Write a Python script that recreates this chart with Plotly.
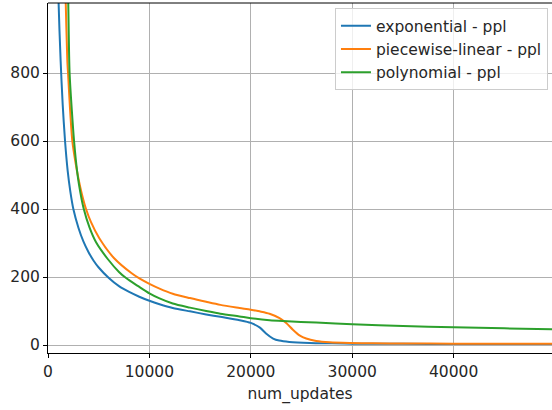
import plotly.graph_objects as go

# ---- data ----
exp_x = [900, 1046, 1245, 1450, 1680, 1935, 2200, 2500, 3000, 3500, 4000, 4500, 5000, 6000,
         7000, 8000, 9000, 10000, 11000, 12300, 14000, 15600, 17000, 18900, 20000, 20900, 21500,
         22200, 22800, 23800, 25800, 28000, 30000, 35000, 40000, 45000, 50000]
exp_y = [1250, 1005, 836, 707, 600, 514, 452, 400, 345, 304, 273, 248, 228, 197,
         173, 156, 142, 130, 120, 109, 99, 90, 83, 73, 65, 51, 34,
         19, 13, 9, 6, 5, 4, 3.5, 3, 3, 3]

pw_x = [1500, 1750, 1905, 1975, 2150, 2400, 2700, 3000, 3350, 3750, 4230, 5060, 6500, 8250,
        9010, 10000, 11000, 12300, 14000, 15600, 17000, 18880, 20000, 20860, 21850, 22830,
        23490, 24150, 24800, 25460, 26450, 27770, 29740, 32000, 35000, 40000, 45000, 50000]
pw_y = [1350, 1005, 836, 800, 706, 600, 539, 490, 443, 400, 362, 314, 256, 211,
        196, 180, 166, 151, 138, 127, 118, 109, 104, 99, 92, 79,
        65, 45, 28.5, 19, 12, 8, 6, 5, 4.5, 4, 3.5, 3.5]

poly_x = [1700, 2000, 2130, 2350, 2570, 2860, 3060, 3510, 4100, 4740, 5890, 7000, 7700, 8850,
          10000, 11000, 12300, 14000, 15600, 17000, 18880, 20000, 21850, 23160, 26450, 30000,
          35000, 40000, 45000, 50000]
poly_y = [1600, 1005, 800, 690, 600, 514, 471, 402, 345, 302, 253, 215, 197, 174,
          152, 137, 122, 110, 100, 92, 84, 79, 73, 70.5, 66, 61,
          56, 52, 49, 46]

names = ["exponential - ppl", "piecewise-linear - ppl", "polynomial - ppl"]
colors = ["#1f77b4", "#ff7f0e", "#2ca02c"]

x_ticks = [0, 10000, 20000, 30000, 40000]
y_ticks = [0, 200, 400, 600, 800]

fig = go.Figure()
for xs, ys, n, c in zip([exp_x, pw_x, poly_x], [exp_y, pw_y, poly_y], names, colors):
    fig.add_trace(go.Scatter(x=xs, y=ys, mode="lines", name=n,
                             line=dict(color=c, width=2, shape="spline", smoothing=0.8)))

font = dict(family="DejaVu Sans", size=15.5, color="#262626")
axis_common = dict(showgrid=True, gridcolor="#b0b0b0", gridwidth=1,
                   showline=True, linecolor="black", linewidth=1,
                   ticks="outside", ticklen=4, tickcolor="black", tickwidth=1,
                   zeroline=False, tickfont=font)

fig.update_layout(
    width=552, height=410,
    margin=dict(l=48, r=0, t=3, b=57),
    paper_bgcolor="white", plot_bgcolor="white",
    font=font,
    xaxis=dict(range=[0, 49700], tickvals=x_ticks, ticktext=[str(v) for v in x_ticks],
               title=dict(text="num_updates", font=font, standoff=8), **axis_common),
    yaxis=dict(range=[-23.5, 1006], tickvals=y_ticks, ticktext=[str(v) for v in y_ticks],
               **axis_common),
    legend=dict(x=0.992, y=0.985, xanchor="right", yanchor="top",
                bgcolor="rgba(255,255,255,0.8)", bordercolor="#cccccc", borderwidth=1,
                font=font),
    showlegend=True,
    shapes=[dict(type="line", xref="paper", yref="paper", x0=0, x1=1, y0=1, y1=1,
                 line=dict(color="black", width=1))],
)

fig.write_html("out.html")
